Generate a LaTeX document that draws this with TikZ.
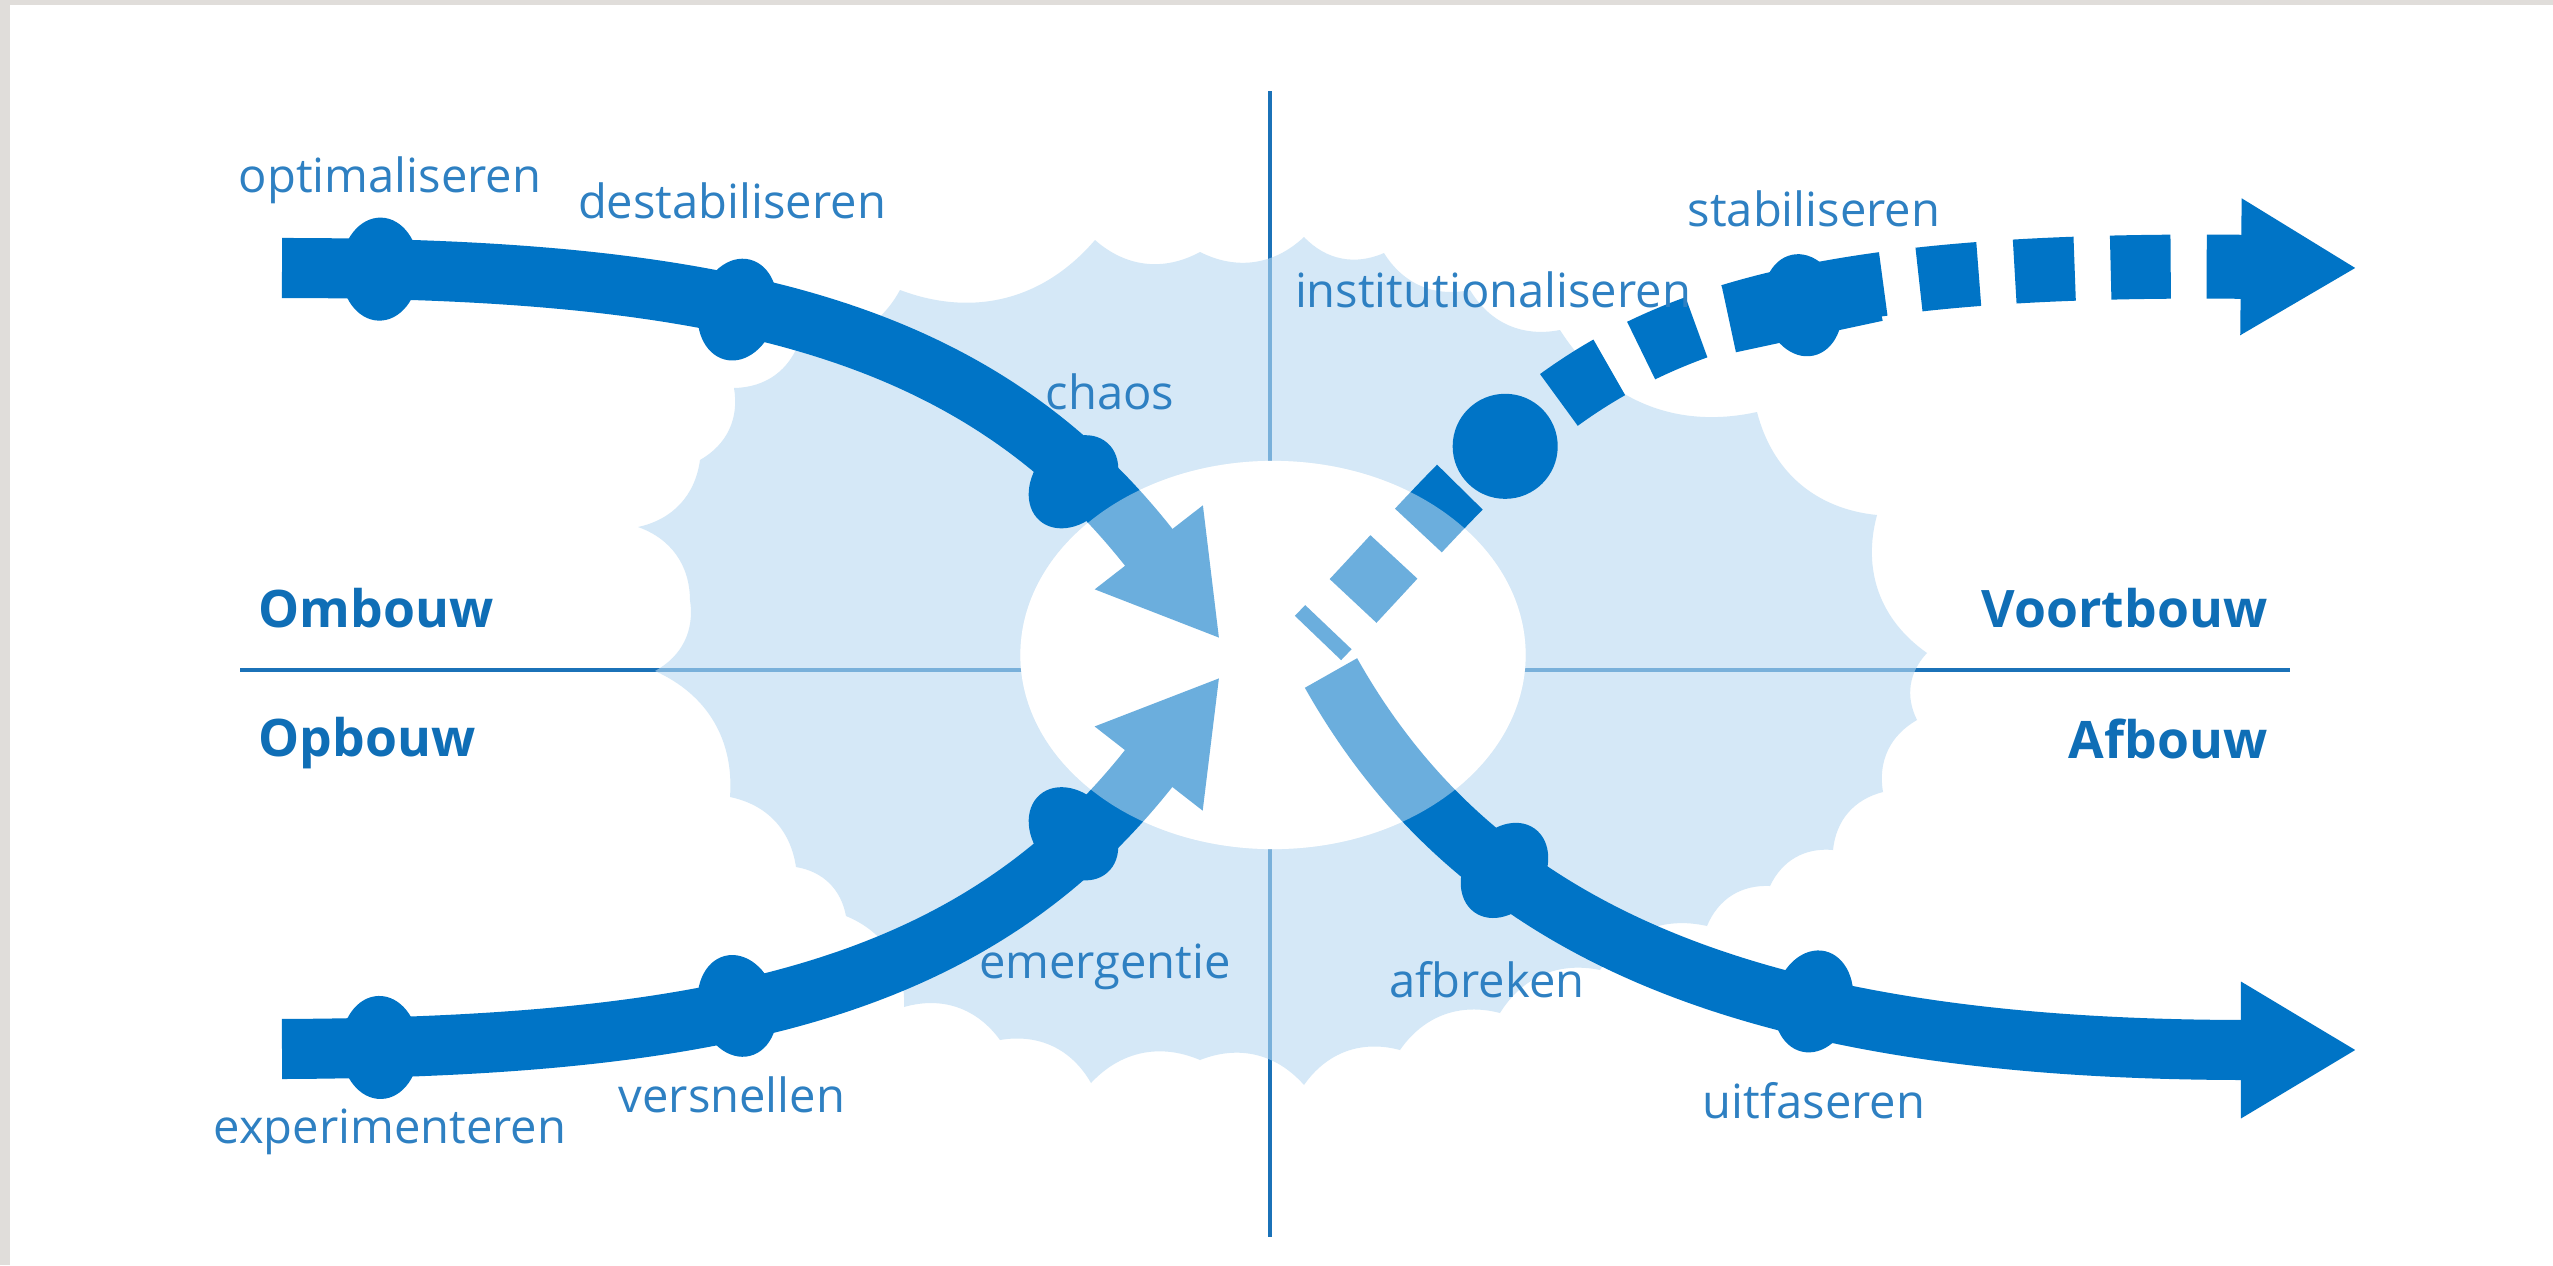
\documentclass[tikz,border=0pt]{standalone}
\usepackage{fontspec}
\setmainfont{Open Sans}
\usepackage{tikz}
\usetikzlibrary{arrows.meta, shapes.geometric}

\definecolor{arrowblue}{HTML}{0074C6}
\definecolor{lineblue}{HTML}{1B72B8}
\definecolor{textblue}{HTML}{2E80C2}
\definecolor{headblue}{HTML}{0F6EB6}
\definecolor{blobblue}{RGB}{185,218,242}
\definecolor{framegrey}{RGB}{224,221,218}

\tikzset{
  band/.style={draw=arrowblue, line width=0.6cm, -{Triangle[length=1.16cm, width=1.28cm]}},
  knot/.style={ellipse, fill=arrowblue, minimum width=0.78cm, minimum height=1.03cm, inner sep=0pt, sloped},
  dashblock/.style={rectangle, fill=arrowblue, minimum width=1.5cm, minimum height=0.64cm, inner sep=0pt, sloped},
  phaselabel/.style={font=\fontsize{13.4}{16}\selectfont, text=textblue, inner sep=0pt, anchor=base},
  quadlabel/.style={font=\bfseries\fontsize{14.7}{18}\selectfont, text=headblue, inner sep=0pt},
  divider/.style={draw=lineblue, line width=0.045cm},
}

\begin{document}
\begin{tikzpicture}[x=0.01cm, y=0.01cm]
    \fill[framegrey] (0,0) rectangle (2553,1265);
    \fill[white] (10,0) rectangle (2553,1260);

    \coordinate (north) at (1270,1174);
    \coordinate (south) at (1270,28);
    \coordinate (west) at (240,595);
    \coordinate (east) at (2290,595);
    \draw[divider] (north) -- (south);
    \draw[divider] (west) -- (east);

    \fill[blobblue, fill opacity=0.6] (900,975)
        \foreach \x/\y in {1095/1025, 1200/1013, 1304/1028, 1384/1012, 1470/975,
                           1560/935, 1757/853, 1877/750, 1927/612,
                           1917/545, 1883/473, 1833/415, 1770/379, 1707/339,
                           1600/295, 1500/252, 1400/215, 1304/180, 1200/205,
                           1091/182, 1000/225, 904/258, 846/349, 796/398,
                           730/468, 655/594, 690/665, 638/738, 700/805,
                           734/877, 800/925, 900/975}
        { to[bend right=35] (\x,\y) } -- cycle;

    \node[ellipse, fill=white, inner sep=0pt, minimum width=5.05cm, minimum height=3.88cm] at (1273,610) (core) {};

    \coordinate (startA) at (282,997);
    \coordinate (tipA) at (1220,626);
    \coordinate (startB) at (282,216);
    \coordinate (tipB) at (1220,588);
    \coordinate (startC) at (1331,592);
    \coordinate (tipC) at (2357,215);
    \coordinate (startD) at (1318,627);
    \coordinate (tipD) at (2357,997);

    \draw[band] (startA) .. controls (732,997) and (980,935) .. (tipA)
        node[knot, pos=0.075] (optknot) {}
        node[knot, pos=0.4] (destabknot) {}
        node[knot, pos=0.8] (chaosknot) {};
    \draw[band] (startB) .. controls (732,218) and (980,280) .. (tipB)
        node[knot, pos=0.075] (experknot) {}
        node[knot, pos=0.4] (versnknot) {}
        node[knot, pos=0.8] (emergknot) {};
    \draw[band] (startC) .. controls (1479,329) and (1757,215) .. (tipC)
        node[knot, pos=0.3] (afbrknot) {}
        node[knot, pos=0.63] (uitfasknot) {};
    \draw[band, line width=0.64cm, dash pattern=on 0.6cm off 0.36cm, dash phase=0.45cm]
        (startD) .. controls (1558,877) and (1600,1005) .. (tipD)
        node[circle, fill=arrowblue, minimum size=1.05cm, inner sep=0pt, pos=0.3] (institknot) {}
        node[dashblock, pos=0.665] {}
        node[knot, pos=0.665] (stabknot) {};

    \begin{scope}
        \clip (1273,610) ellipse [x radius=2.525cm, y radius=1.94cm];
        \fill[white, fill opacity=0.42] (1000,365) rectangle (1550,865);
    \end{scope}

    \node[phaselabel] at (390,1073) (opt) {optimaliseren};
    \node[phaselabel] at (732,1047) (destab) {destabiliseren};
    \node[phaselabel] at (1110,856) (chaos) {chaos};
    \node[phaselabel] at (1493,958) (instit) {institutionaliseren};
    \node[phaselabel] at (1814,1039) (stab) {stabiliseren};
    \node[phaselabel] at (1105,287) (emerg) {emergentie};
    \node[phaselabel] at (732,153) (versn) {versnellen};
    \node[phaselabel] at (390,122) (exper) {experimenteren};
    \node[phaselabel] at (1487,268) (afbr) {afbreken};
    \node[phaselabel] at (1814,147) (uitfas) {uitfaseren};

    \node[quadlabel, anchor=base west] at (258,638) (ombouw) {Ombouw};
    \node[quadlabel, anchor=base west] at (258,509) (opbouw) {Opbouw};
    \node[quadlabel, anchor=base east] at (2268,638) (voortbouw) {Voortbouw};
    \node[quadlabel, anchor=base east] at (2268,507) (afbouw) {Afbouw};
\end{tikzpicture}
\end{document}
